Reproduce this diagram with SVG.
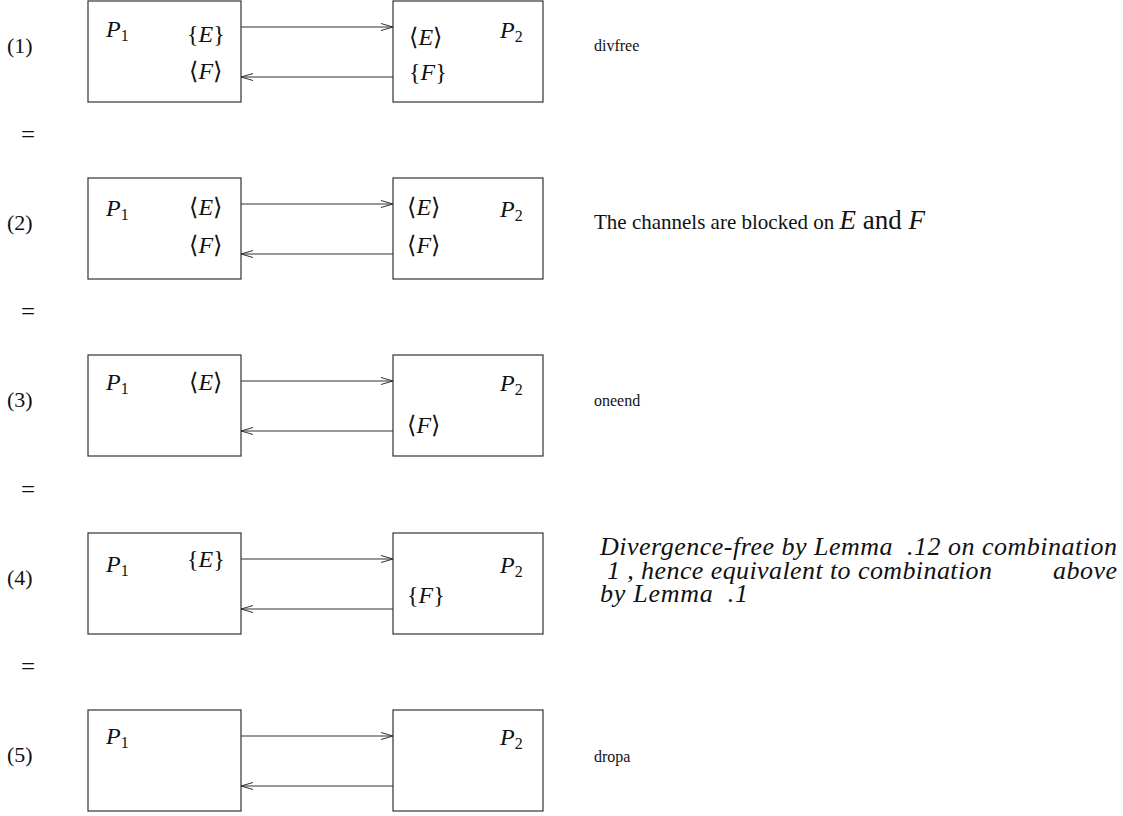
<svg xmlns="http://www.w3.org/2000/svg" width="1123" height="816" viewBox="0 0 1123 816">
  <style>
    .box { fill: none; stroke: #333; stroke-width: 1.2; }
    .wire { stroke: #333; stroke-width: 1.2; fill: none; }
    text { font-family: 'Liberation Serif', 'DejaVu Serif', serif; fill: #111; }
    .m { font-size: 24px; }
    .it { font-style: italic; }
    .sub { font-size: 16px; font-style: normal; }
    .num { font-size: 22px; }
    .eq { font-size: 25px; }
    .note { font-size: 16px; }
    .note2 { font-size: 21px; }
    .just { font-size: 26px; font-style: italic; }
  </style>
  <defs>
    <marker id="open" viewBox="0 0 12 8" refX="12" refY="4" markerWidth="12" markerHeight="8" markerUnits="userSpaceOnUse" orient="auto">
      <path d="M0,0.5 L12,4 L0,7.5" fill="none" stroke="#333" stroke-width="1"/>
    </marker>
  </defs>

  <!-- step labels and equalities -->
  <g id="labels">
    <text class="num" x="7" y="53">(1)</text>
    <text class="num" x="7" y="230">(2)</text>
    <text class="num" x="7" y="407">(3)</text>
    <text class="num" x="7" y="585">(4)</text>
    <text class="num" x="7" y="762">(5)</text>
    <text class="eq" x="21" y="143">=</text>
    <text class="eq" x="21" y="320">=</text>
    <text class="eq" x="21" y="498">=</text>
    <text class="eq" x="21" y="675">=</text>
  </g>

  <!-- channels between the two processes -->
  <g id="connectors">
    <line class="wire" x1="241" y1="27" x2="393" y2="27" marker-end="url(#open)"/>
    <line class="wire" x1="393" y1="77" x2="241" y2="77" marker-end="url(#open)"/>
    <line class="wire" x1="241" y1="204" x2="393" y2="204" marker-end="url(#open)"/>
    <line class="wire" x1="393" y1="254" x2="241" y2="254" marker-end="url(#open)"/>
    <line class="wire" x1="241" y1="381" x2="393" y2="381" marker-end="url(#open)"/>
    <line class="wire" x1="393" y1="431" x2="241" y2="431" marker-end="url(#open)"/>
    <line class="wire" x1="241" y1="559" x2="393" y2="559" marker-end="url(#open)"/>
    <line class="wire" x1="393" y1="609" x2="241" y2="609" marker-end="url(#open)"/>
    <line class="wire" x1="241" y1="736" x2="393" y2="736" marker-end="url(#open)"/>
    <line class="wire" x1="393" y1="786" x2="241" y2="786" marker-end="url(#open)"/>
  </g>

  <!-- step 1 -->
  <g id="p1-step1">
    <rect class="box" x="88" y="1" width="153" height="101"/>
    <text class="m" x="106" y="37"><tspan class="it">P</tspan><tspan class="sub" dy="4">1</tspan></text>
    <text class="m" x="187" y="42">{<tspan class="it">E</tspan>}</text>
    <text class="m" x="189" y="79">⟨<tspan class="it">F</tspan>⟩</text>
  </g>
  <g id="p2-step1">
    <rect class="box" x="393" y="1" width="150" height="101"/>
    <text class="m" x="500" y="38"><tspan class="it">P</tspan><tspan class="sub" dy="4">2</tspan></text>
    <text class="m" x="409" y="45">⟨<tspan class="it">E</tspan>⟩</text>
    <text class="m" x="409" y="80">{<tspan class="it">F</tspan>}</text>
  </g>

  <!-- step 2 -->
  <g id="p1-step2">
    <rect class="box" x="88" y="178" width="153" height="101"/>
    <text class="m" x="106" y="216"><tspan class="it">P</tspan><tspan class="sub" dy="4">1</tspan></text>
    <text class="m" x="189" y="215">⟨<tspan class="it">E</tspan>⟩</text>
    <text class="m" x="189" y="253">⟨<tspan class="it">F</tspan>⟩</text>
  </g>
  <g id="p2-step2">
    <rect class="box" x="393" y="178" width="150" height="101"/>
    <text class="m" x="500" y="217"><tspan class="it">P</tspan><tspan class="sub" dy="4">2</tspan></text>
    <text class="m" x="407" y="215">⟨<tspan class="it">E</tspan>⟩</text>
    <text class="m" x="407" y="253">⟨<tspan class="it">F</tspan>⟩</text>
  </g>

  <!-- step 3 -->
  <g id="p1-step3">
    <rect class="box" x="88" y="355" width="153" height="101"/>
    <text class="m" x="106" y="390"><tspan class="it">P</tspan><tspan class="sub" dy="4">1</tspan></text>
    <text class="m" x="189" y="390">⟨<tspan class="it">E</tspan>⟩</text>
  </g>
  <g id="p2-step3">
    <rect class="box" x="393" y="355" width="150" height="101"/>
    <text class="m" x="500" y="391"><tspan class="it">P</tspan><tspan class="sub" dy="4">2</tspan></text>
    <text class="m" x="407" y="433">⟨<tspan class="it">F</tspan>⟩</text>
  </g>

  <!-- step 4 -->
  <g id="p1-step4">
    <rect class="box" x="88" y="533" width="153" height="101"/>
    <text class="m" x="106" y="572"><tspan class="it">P</tspan><tspan class="sub" dy="4">1</tspan></text>
    <text class="m" x="187" y="567">{<tspan class="it">E</tspan>}</text>
  </g>
  <g id="p2-step4">
    <rect class="box" x="393" y="533" width="150" height="101"/>
    <text class="m" x="500" y="573"><tspan class="it">P</tspan><tspan class="sub" dy="4">2</tspan></text>
    <text class="m" x="407" y="603">{<tspan class="it">F</tspan>}</text>
  </g>

  <!-- step 5 -->
  <g id="p1-step5">
    <rect class="box" x="88" y="710" width="153" height="101"/>
    <text class="m" x="106" y="744"><tspan class="it">P</tspan><tspan class="sub" dy="4">1</tspan></text>
  </g>
  <g id="p2-step5">
    <rect class="box" x="393" y="710" width="150" height="101"/>
    <text class="m" x="500" y="745"><tspan class="it">P</tspan><tspan class="sub" dy="4">2</tspan></text>
  </g>

  <!-- justifications -->
  <g id="notes">
    <text class="note" x="594" y="51">divfree</text>
    <text class="note2" x="594" y="229">The channels are blocked on <tspan class="it" font-size="27">E</tspan><tspan font-size="27"> and </tspan><tspan class="it" font-size="27">F</tspan></text>
    <text class="note" x="594" y="406">oneend</text>
    <text class="just" x="600" y="555" textLength="517" lengthAdjust="spacing" xml:space="preserve">Divergence-free by Lemma  .12 on combination</text>
    <text class="just" x="607" y="579" textLength="385" lengthAdjust="spacing" xml:space="preserve">1 , hence equivalent to combination</text>
    <text class="just" x="1053" y="579" textLength="64" lengthAdjust="spacing">above</text>
    <text class="just" x="600" y="602" textLength="148" lengthAdjust="spacing" xml:space="preserve">by Lemma  .1</text>
    <text class="note" x="594" y="762">dropa</text>
  </g>
</svg>
